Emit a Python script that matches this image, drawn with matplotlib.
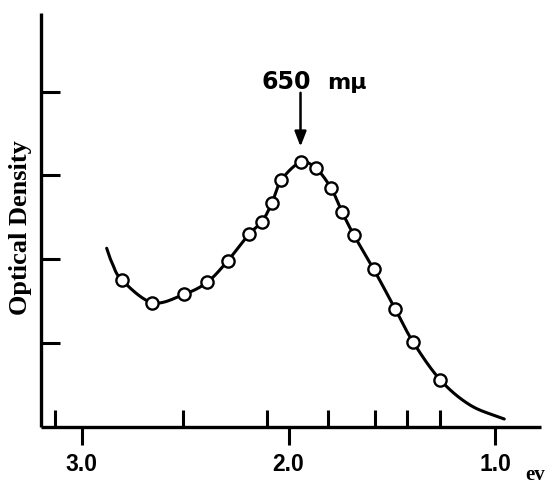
import numpy as np
import matplotlib
matplotlib.use("Agg")
import matplotlib.pyplot as plt

# Measured points (photon energy in eV, optical density in tick units)
energy_pts = [2.806, 2.658, 2.504, 2.393, 2.294, 2.191, 2.128, 2.081, 2.034,
              1.942, 1.867, 1.794, 1.740, 1.685, 1.589, 1.485, 1.397, 1.266]
od_pts = [1.753, 1.481, 1.582, 1.725, 1.980, 2.299, 2.449, 2.669, 2.947,
          3.157, 3.085, 2.848, 2.559, 2.293, 1.884, 1.410, 1.008, 0.558]

# Drawn smooth curve
curve_e = [2.879, 2.853] + energy_pts + [1.120, 0.957]
curve_od = [2.131, 1.956] + od_pts + [0.255, 0.092]

# Axis ticks
ev_ticks = [3.0, 2.0, 1.0]
ev_labels = ["3.0", "2.0", "1.0"]
wavelength_ticks_ev = [3.129, 2.509, 2.105, 1.810, 1.584, 1.426, 1.268]
od_ticks = [1, 2, 3, 4]

peak_energy = 1.942
peak_label = "650"
peak_unit = "mμ"


def catmull_rom(x, y, n=30):
    x = np.asarray(x, float)
    y = np.asarray(y, float)
    P = np.column_stack([x, y])
    P = np.vstack([2 * P[0] - P[1], P, 2 * P[-1] - P[-2]])
    out = []
    t = np.linspace(0, 1, n, endpoint=False)[:, None]
    for i in range(1, len(P) - 2):
        p0, p1, p2, p3 = P[i - 1], P[i], P[i + 1], P[i + 2]
        seg = 0.5 * ((2 * p1) + (-p0 + p2) * t + (2 * p0 - 5 * p1 + 4 * p2 - p3) * t ** 2
                     + (-p0 + 3 * p1 - 3 * p2 + p3) * t ** 3)
        out.append(seg)
    out.append(P[-2][None, :])
    out = np.vstack(out)
    return out[:, 0], out[:, 1]


fig = plt.figure(figsize=(5.55, 4.87), dpi=100)
ax = fig.add_axes([0.0733, 0.1238, 0.9009, 0.8495])

cx, cy = catmull_rom(curve_e, curve_od)
ax.plot(cx, cy, color="black", lw=2.2, solid_capstyle="round", zorder=2)
ax.plot(energy_pts, od_pts, linestyle="none", marker="o", markersize=8.8,
        markerfacecolor="white", markeredgecolor="black", markeredgewidth=1.7, zorder=3)

ax.set_xlim(3.198, 0.781)
ax.set_ylim(0, 4.94)

for s in ["top", "right"]:
    ax.spines[s].set_visible(False)
for s in ["left", "bottom"]:
    ax.spines[s].set_linewidth(2.4)
    ax.spines[s].set_capstyle("butt")

ax.set_xticks(ev_ticks)
ax.set_xticklabels(ev_labels, fontfamily="Liberation Sans", fontsize=16.5, fontweight="bold")
ax.tick_params(axis="x", which="major", direction="out", length=13, width=2.2, pad=6)
ax.set_xticks(wavelength_ticks_ev, minor=True)
ax.tick_params(axis="x", which="minor", direction="in", length=12, width=2.2)

ax.set_yticks(od_ticks)
ax.set_yticklabels([])
ax.tick_params(axis="y", which="major", direction="in", length=14, width=2.2)

fig.text(21 / 555, 1 - 228 / 487, "Optical Density", fontfamily="Liberation Serif",
         fontsize=19, fontweight="semibold", rotation=90, ha="center", va="center")

fig.text(525 / 555, 2 / 487, "ev", fontfamily="Liberation Serif", fontsize=15,
         fontweight="bold", ha="left", va="bottom")

# arrow to the peak
ax.annotate("", xy=(peak_energy, 3.345), xytext=(peak_energy, 3.987),
            arrowprops=dict(arrowstyle="-|>,head_length=0.9,head_width=0.35",
                            color="black", lw=1.8, shrinkA=0, shrinkB=0))
ax.text(peak_energy - 0.05, 4.034, peak_label, fontfamily="DejaVu Sans", fontsize=17,
        fontweight="bold", ha="right", va="baseline", transform=ax.transData)
ax.text(peak_energy - 0.13, 4.034, peak_unit, fontfamily="DejaVu Sans", fontsize=16,
        fontweight="bold", ha="left", va="baseline", transform=ax.transData)

fig.savefig("out.png", dpi=100)
